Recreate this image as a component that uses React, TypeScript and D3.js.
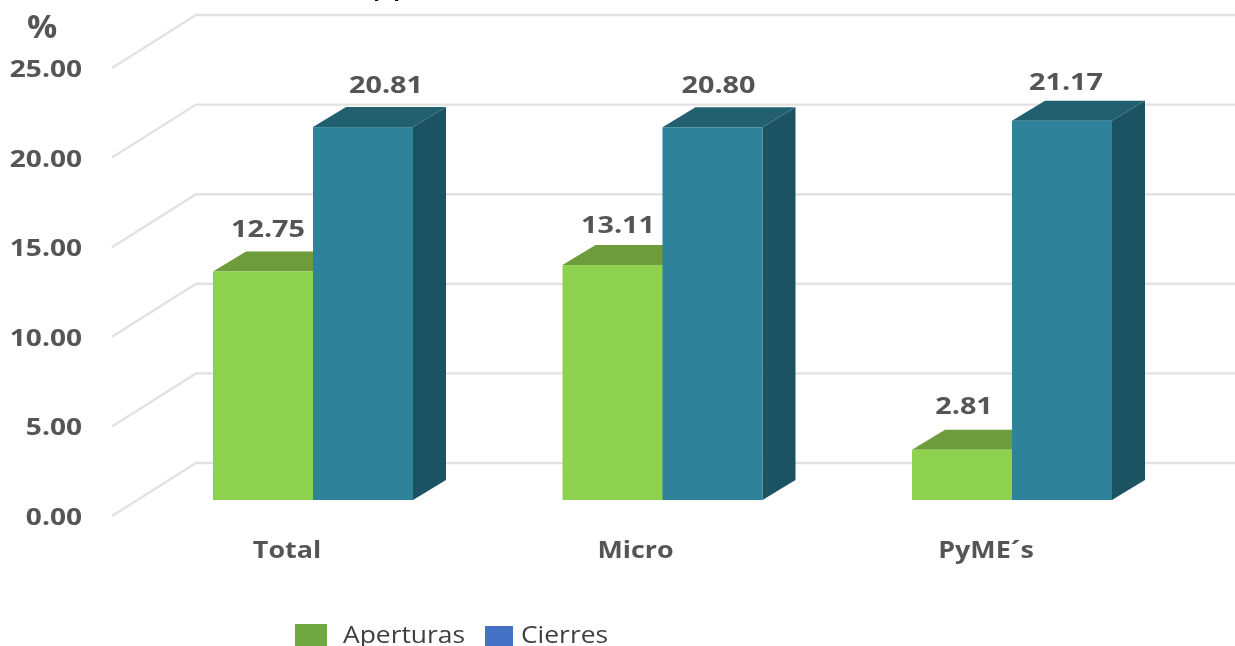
import React from "react";
import * as d3 from "d3";

const categories = ["Total", "Micro", "PyME´s"];
const aperturas = [12.75, 13.11, 2.81];
const cierres = [20.81, 20.8, 21.17];
const yTicks = [0, 5, 10, 15, 20, 25];
const legendItems = ["Aperturas", "Cierres"];

const W = 1235, H = 646;
const DX = 33, DY = -20;
const BAR = 100;
const y = d3.scaleLinear().domain([0, 25]).range([500, 52]);
const x0 = d3.scalePoint<string>().domain(categories).range([213, 912]);

// label placement relative to each group, as it falls in the picture
const aperturaLabel = [{ dx: 55, dy: -35 }, { dx: 55.5, dy: -32.5 }, { dx: 52, dy: -36 }];
const cierreLabel = [{ dx: 173, dy: -34 }, { dx: 156, dy: -34 }, { dx: 154, dy: -31 }];
const categoryLabelDx = [74, 73, 74];

const textStyle: React.CSSProperties = { fontFamily: "'Open Sans', sans-serif", fontWeight: 700, fill: "#555555" };

function Bar({ x, v, front, top, side }: { x: number; v: number; front: string; top: string; side: string }) {
  const yy = y(v), b = y(0);
  const line = d3.line();
  return (
    <g>
      <path d={line([[x + BAR, yy], [x + BAR + DX, yy + DY], [x + BAR + DX, b + DY], [x + BAR, b]])! + "Z"} fill={side} />
      <path d={line([[x, yy], [x + DX, yy + DY], [x + BAR + DX, yy + DY], [x + BAR, yy]])! + "Z"} fill={top} />
      <rect x={x} y={yy} width={BAR} height={b - yy} fill={front} />
    </g>
  );
}

function SText({ x, y: ty, children, size = 24, sx = 1.17, anchor = "middle", style }: any) {
  return (
    <text transform={`translate(${x},${ty}) scale(${sx},1)`} textAnchor={anchor} fontSize={size} style={{ ...textStyle, ...style }}>
      {children}
    </text>
  );
}

export default function App() {
  return (
    <svg width={W} height={H} viewBox={`0 0 ${W} ${H}`} style={{ position: "absolute", left: 0, top: 0, background: "#fff" }}>
      <defs>
        <filter id="soft" x="-5%" y="-5%" width="110%" height="110%"><feGaussianBlur stdDeviation="0.6" /></filter>
      </defs>
      <g filter="url(#soft)">
        {yTicks.map((t) => {
          const yb = y(t) - 37;
          return (
            <path key={t} d={`M112,${yb + 53}L196,${yb}L${W + 5},${yb}`} fill="none" stroke="#e2e2e2" strokeWidth={2.4} />
          );
        })}
        {yTicks.map((t) => (
          <SText key={t} x={82} y={y(t) + 25} anchor="end">{t.toFixed(2)}</SText>
        ))}
        <SText x={42} y={38} size={32} sx={1.05}>%</SText>
        <SText x={378} y={-2} size={24} style={{ fill: "#000" }}>,</SText>
        <SText x={398} y={-2} size={24} style={{ fill: "#000" }}>,</SText>

        {categories.map((c, i) => {
          const gx = x0(c)!;
          return (
            <g key={c}>
              <Bar x={gx} v={aperturas[i]} front="#8ed14f" top="#6e9b3a" side="#5d8530" />
              <Bar x={gx + BAR} v={cierres[i]} front="#2f8299" top="#246170" side="#1e5263" />
              <SText x={gx + aperturaLabel[i].dx} y={y(aperturas[i]) + aperturaLabel[i].dy} sx={1.2}>{aperturas[i].toFixed(2)}</SText>
              <SText x={gx + cierreLabel[i].dx} y={y(cierres[i]) + cierreLabel[i].dy} sx={1.2}>{cierres[i].toFixed(2)}</SText>
              <SText x={gx + categoryLabelDx[i]} y={558} sx={1.12}>{c}</SText>
            </g>
          );
        })}

        <rect x={295} y={624} width={32} height={24} fill="#6fa843" />
        <rect x={485} y={626} width={28} height={22} fill="#4472c4" />
        <SText x={343} y={643} anchor="start" sx={1.1} style={{ fontWeight: 500, fill: "#404040" }}>{legendItems[0]}</SText>
        <SText x={521} y={643} anchor="start" sx={1.1} style={{ fontWeight: 500, fill: "#404040" }}>{legendItems[1]}</SText>
      </g>
    </svg>
  );
}
